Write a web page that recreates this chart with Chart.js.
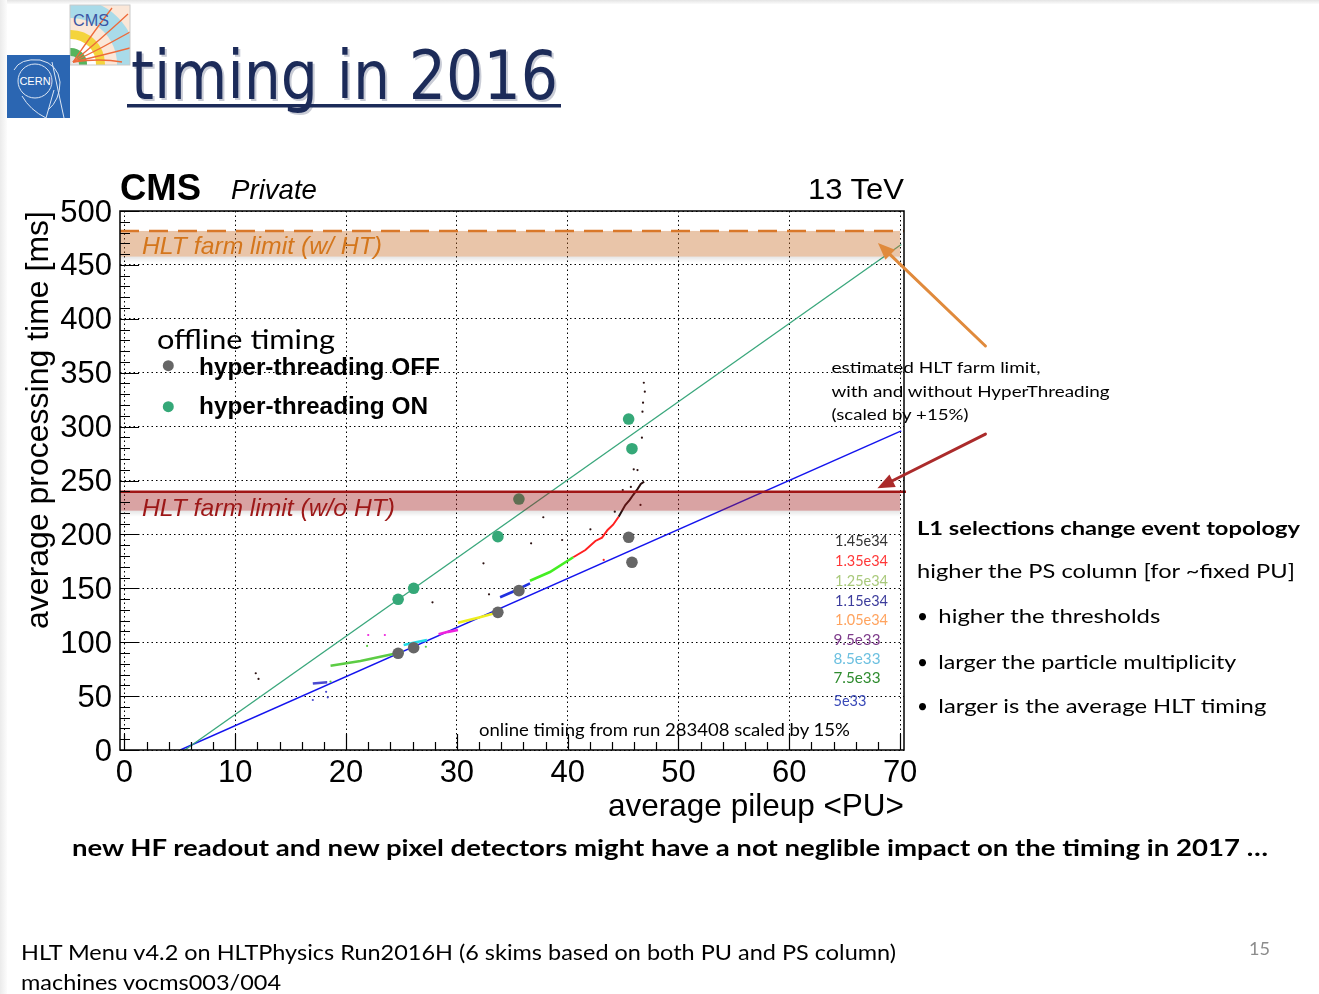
<!DOCTYPE html>
<html>
<head>
<meta charset="utf-8">
<title>timing in 2016</title>
<script src="https://cdn.jsdelivr.net/npm/chart.js@4.4.1/dist/chart.umd.min.js"></script>
<style>
  html, body { margin: 0; padding: 0; background: #fff; }
  #page { position: relative; width: 1319px; height: 994px; overflow: hidden; background: #fff; }
  #edgeTop { position: absolute; left: 0; top: 0; width: 1319px; height: 4px; background: linear-gradient(#e4e4e4, #fbfbfb); }
  #edgeLeft { position: absolute; left: 0; top: 0; width: 7px; height: 994px; background: linear-gradient(90deg, #ebebeb, #fcfcfc); }
  #chart { position: absolute; left: 0; top: 150px; }
  #overlay { position: absolute; left: 0; top: 0; pointer-events: none; }
  .root { font-family: "Liberation Sans", Arial, sans-serif; }
  .ppt { font-family: Lato, "Open Sans", sans-serif; }
</style>
</head>
<body>
<div id="page">
  <div id="edgeTop"></div>
  <div id="edgeLeft"></div>
  <canvas id="chart" width="1319" height="680"></canvas>

  <svg id="overlay" width="1319" height="994" xmlns="http://www.w3.org/2000/svg">
    <!-- experiment logos -->
    <defs>
      <clipPath id="cmsClip"><rect x="70" y="5" width="60" height="60"/></clipPath>
    </defs>
    <g clip-path="url(#cmsClip)">
      <rect x="70" y="5" width="60" height="60" fill="#fbe7d8"/>
      <circle cx="71" cy="64" r="66" fill="#a9dbe9"/>
      <circle cx="71" cy="64" r="46" fill="#fbe7d8"/>
      <circle cx="71" cy="64" r="34" fill="#f4d43c"/>
      <circle cx="71" cy="64" r="25" fill="#ffffff"/>
      <circle cx="71" cy="64" r="16" fill="#56b45c"/>
      <circle cx="71" cy="64" r="8" fill="#e6e6e6"/>
      <g fill="none" stroke="#ee6a3a" stroke-width="1.3">
        <path d="M73,62 Q100,40 128,14"/>
        <path d="M73,62 Q102,48 130,32"/>
        <path d="M73,62 Q104,55 130,48"/>
        <path d="M73,62 Q100,58 122,62"/>
        <path d="M73,62 Q95,30 112,8"/>
      </g>
      <text x="73" y="26" class="root" font-size="16" fill="#3b56a4" textLength="36" lengthAdjust="spacingAndGlyphs">CMS</text>
    </g>
    <rect x="70" y="5" width="60" height="60" fill="none" stroke="#c9c9c9" stroke-width="1"/>
    <rect x="7" y="55" width="63" height="63" fill="#2b66b2"/>
    <g fill="none" stroke="#dce6f4" stroke-width="1">
      <circle cx="35" cy="81" r="17"/>
      <path d="M14,70 Q20,58 40,60 Q58,64 60,82 Q60,100 48,110"/>
      <path d="M22,96 Q30,110 46,118"/>
      <path d="M52,62 L64,118"/>
      <path d="M46,118 L54,90"/>
    </g>
    <text x="35" y="85" class="root" font-size="11" fill="#ffffff" text-anchor="middle">CERN</text>

    <!-- slide title -->
    <text x="131" y="99" font-family="DejaVu Sans" font-size="67" fill="#c9ccd6" textLength="427" lengthAdjust="spacingAndGlyphs" transform="translate(2,2)">timing in 2016</text>
    <text x="131" y="99" font-family="DejaVu Sans" font-size="67" fill="#1c2b59" textLength="427" lengthAdjust="spacingAndGlyphs">timing in 2016</text>
    <rect x="127" y="104" width="434" height="3.5" fill="#1c2b59"/>

    <!-- plot header -->
    <text x="120" y="200" class="root" font-size="36" font-weight="bold" fill="#000" textLength="81" lengthAdjust="spacingAndGlyphs">CMS</text>
    <text x="231" y="199" class="root" font-size="28" font-style="italic" fill="#000" textLength="86" lengthAdjust="spacingAndGlyphs">Private</text>
    <text x="808" y="199" class="root" font-size="30" fill="#000" textLength="96" lengthAdjust="spacingAndGlyphs">13 TeV</text>

    <!-- farm limit labels -->
    <text x="142" y="254" class="root" font-size="24" font-style="italic" fill="#d4761c" textLength="240" lengthAdjust="spacingAndGlyphs">HLT farm limit (w/ HT)</text>
    <text x="142" y="516" class="root" font-size="24" font-style="italic" fill="#9c1717" textLength="253" lengthAdjust="spacingAndGlyphs">HLT farm limit (w/o HT)</text>

    <!-- offline timing legend -->
    <text x="157" y="349" class="ppt" font-size="27" fill="#000" textLength="178" lengthAdjust="spacingAndGlyphs">offline timing</text>
    <circle cx="168.3" cy="365.7" r="5.5" fill="#666666"/>
    <text x="199" y="375" class="root" font-size="24" font-weight="bold" fill="#000" textLength="241" lengthAdjust="spacingAndGlyphs">hyper-threading OFF</text>
    <circle cx="168.3" cy="406.7" r="5.5" fill="#35a878"/>
    <text x="199" y="413.5" class="root" font-size="24" font-weight="bold" fill="#000" textLength="229" lengthAdjust="spacingAndGlyphs">hyper-threading ON</text>

    <!-- online timing luminosity legend -->
    <g class="ppt" font-size="16">
      <text x="835" y="546" fill="#333333" textLength="53" lengthAdjust="spacingAndGlyphs">1.45e34</text>
      <text x="835" y="566" fill="#ff3838" textLength="53" lengthAdjust="spacingAndGlyphs">1.35e34</text>
      <text x="835" y="585.5" fill="#a9c97a" textLength="53" lengthAdjust="spacingAndGlyphs">1.25e34</text>
      <text x="835" y="605.5" fill="#3c3c9c" textLength="53" lengthAdjust="spacingAndGlyphs">1.15e34</text>
      <text x="835" y="625" fill="#ffa35e" textLength="53" lengthAdjust="spacingAndGlyphs">1.05e34</text>
      <text x="833.5" y="645" fill="#7d3a8a" textLength="47" lengthAdjust="spacingAndGlyphs">9.5e33</text>
      <text x="833.5" y="664" fill="#6cc0e0" textLength="47" lengthAdjust="spacingAndGlyphs">8.5e33</text>
      <text x="833.5" y="683" fill="#2e8b2e" textLength="47" lengthAdjust="spacingAndGlyphs">7.5e33</text>
      <text x="833.5" y="706" fill="#3a4ab8" textLength="33" lengthAdjust="spacingAndGlyphs">5e33</text>
    </g>
    <text x="479" y="736" class="ppt" font-size="16.5" fill="#000" textLength="371" lengthAdjust="spacingAndGlyphs">online timing from run 283408 scaled by 15%</text>

    <!-- farm limit note -->
    <g class="ppt" font-size="15.5" fill="#000">
      <text x="831.5" y="373" textLength="209" lengthAdjust="spacingAndGlyphs">estimated HLT farm limit,</text>
      <text x="831.5" y="397" textLength="278" lengthAdjust="spacingAndGlyphs">with and without HyperThreading</text>
      <text x="831.5" y="420" textLength="137" lengthAdjust="spacingAndGlyphs">(scaled by +15%)</text>
    </g>

    <!-- right-hand notes -->
    <g class="ppt" font-size="19" fill="#000">
      <text x="917" y="535" font-weight="bold" textLength="383" lengthAdjust="spacingAndGlyphs">L1 selections change event topology</text>
      <text x="917" y="578" textLength="378" lengthAdjust="spacingAndGlyphs">higher the PS column [for ~fixed PU]</text>
      <text x="917" y="623">•</text>
      <text x="938.3" y="623" textLength="222" lengthAdjust="spacingAndGlyphs">higher the thresholds</text>
      <text x="917" y="668.5">•</text>
      <text x="938.3" y="668.5" textLength="298" lengthAdjust="spacingAndGlyphs">larger the particle multiplicity</text>
      <text x="917" y="713">•</text>
      <text x="938.3" y="713" textLength="328" lengthAdjust="spacingAndGlyphs">larger is the average HLT timing</text>
    </g>

    <!-- conclusion and footer -->
    <text x="72" y="856" class="ppt" font-size="22.5" font-weight="bold" fill="#000" textLength="1196" lengthAdjust="spacingAndGlyphs">new HF readout and new pixel detectors might have a not neglible impact on the timing in 2017 …</text>
    <text x="21" y="960" class="ppt" font-size="22" fill="#000" textLength="875" lengthAdjust="spacingAndGlyphs">HLT Menu v4.2 on HLTPhysics Run2016H (6 skims based on both PU and PS column)</text>
    <text x="21" y="990" class="ppt" font-size="22" fill="#000" textLength="260" lengthAdjust="spacingAndGlyphs">machines vocms003/004</text>
    <text x="1249" y="955" class="ppt" font-size="17" fill="#8c8c8c" textLength="21" lengthAdjust="spacingAndGlyphs">15</text>
  </svg>
</div>

<script>
// ---- axis ticks ----
const xTicks = [0, 10, 20, 30, 40, 50, 60, 70];
const yTicks = [0, 50, 100, 150, 200, 250, 300, 350, 400, 450, 500];

// ---- offline timing (average pileup vs average processing time in ms) ----
const offlinePU = [24.7, 26.1, 33.7, 35.6, 45.5, 45.8];
const timeHTOff = [89.7, 94.9, 127.7, 147.8, 197.3, 174.1];
const timeHTOn  = [139.8, 150.0, 197.9, 232.8, 307.0, 279.5];

// ---- linear fits to the offline points ----
const fitHTOnPU    = [5.45, 70.1];
const fitHTOnTime  = [0, 469];
const fitHTOffPU   = [5.04, 70.1];
const fitHTOffTime = [0, 296];

// ---- estimated HLT farm limits [ms]: lower edge, limit ----
const limitWithHT    = [457.7, 481.5];
const limitWithoutHT = [222.0, 239.6];

// ---- online timing from run 283408, one track per instantaneous luminosity ----
const lumiLabels = ['5e33', '7.5e33', '8.5e33', '9.5e33', '1.05e34', '1.15e34', '1.25e34', '1.35e34', '1.45e34'];
const trackPU = [
  [17.0, 18.3],
  [18.6, 21.3, 25.2],
  [25.2, 26.3, 27.3],
  [28.35, 29.2, 30.1],
  [30.1, 32.0, 33.9],
  [33.9, 35.2, 36.6],
  [36.6, 38.4, 40.5],
  [40.5, 41.6, 42.5, 43.1, 43.6, 44.1, 44.6],
  [44.6, 45.2, 45.6, 45.9, 46.3, 46.6, 46.9]
];
const trackTime = [
  [61.7, 62.8],
  [78.2, 82.6, 91.2],
  [97.4, 100.0, 102.0],
  [107.3, 109.6, 111.3],
  [118.1, 123.0, 128.3],
  [141.7, 147.5, 154.6],
  [157.0, 165.1, 178.8],
  [178.8, 185.5, 193.9, 197.0, 204.1, 209.0, 216.4],
  [216.4, 227.3, 232.0, 236.5, 242.0, 246.8, 249.0]
];
// isolated online measurements: pileup, time, luminosity index
const strayPU   = [17.0, 18.35, 18.2, 18.6, 21.9, 27.2, 22.0, 23.5, 43.25,
                   11.85, 12.1, 27.8, 32.4, 32.9, 37.8, 36.7, 39.5, 42.05, 44.25, 44.97,
                   45.7, 46.57, 45.96, 46.7, 46.75, 46.8, 46.96, 46.87, 46.3];
const strayTime = [46.4, 48.9, 54.0, 63.4, 96.5, 95.8, 106.7, 106.7, 176.3,
                   71.2, 65.9, 137.0, 173.2, 144.4, 215.9, 191.7, 194.8, 204.7, 221.1, 241.2,
                   244.0, 227.3, 260.4, 289.7, 313.8, 322.2, 332.4, 340.7, 259.7];
const strayLumi = [0, 0, 0, 1, 1, 1, 3, 3, 7,
                   8, 8, 8, 8, 8, 8, 8, 8, 8, 8, 8,
                   8, 8, 8, 8, 8, 8, 8, 8, 8];

// ---- styling ----
const trackColors = ['#4a4ad0', '#5ccc44', '#22dde8', '#ee22dd', '#eeee1e', '#2030e0', '#44ee22', '#ff2020', '#2a1010'];
const FONT = 'Liberation Sans';

const toPoints = (xs, ys) => xs.map((v, i) => ({ x: v, y: ys[i] }));

const datasets = [];
// offline points on top
datasets.push({
  label: 'hyper-threading OFF', data: toPoints(offlinePU, timeHTOff), order: 0,
  pointRadius: 5.8, pointBackgroundColor: '#666666', pointBorderWidth: 0, showLine: false
});
datasets.push({
  label: 'hyper-threading ON', data: toPoints(offlinePU, timeHTOn), order: 0,
  pointRadius: 5.8, pointBackgroundColor: '#35a878', pointBorderWidth: 0, showLine: false
});
// online tracks
trackPU.forEach((pu, i) => {
  datasets.push({
    label: lumiLabels[i], data: toPoints(pu, trackTime[i]), order: 1,
    showLine: true, borderColor: trackColors[i], borderWidth: i === 7 || i === 8 ? 2 : 2.6,
    pointRadius: 0, tension: 0
  });
});
datasets.push({
  label: 'online (isolated)', data: toPoints(strayPU, strayTime), order: 1, showLine: false,
  pointRadius: 1.1, pointBorderWidth: 0,
  pointBackgroundColor: strayLumi.map(k => trackColors[k])
});
// fits underneath
datasets.push({
  label: 'fit HT ON', data: toPoints(fitHTOnPU, fitHTOnTime), order: 2,
  showLine: true, borderColor: '#3aa77c', borderWidth: 1.3, pointRadius: 0
});
datasets.push({
  label: 'fit HT OFF', data: toPoints(fitHTOffPU, fitHTOffTime), order: 2,
  showLine: true, borderColor: '#1414ee', borderWidth: 1.5, pointRadius: 0
});

// farm-limit bands, drawn over the data as translucent strips
const limitsPlugin = {
  id: 'farmLimits',
  afterDatasetsDraw(chart) {
    const { ctx, chartArea: a, scales: { x, y } } = chart;
    const xEnd = x.getPixelForValue(70);
    const band = (lim, fill) => {
      const yTop = y.getPixelForValue(lim[1]);
      const yBot = y.getPixelForValue(lim[0]);
      ctx.save();
      ctx.fillStyle = fill;
      ctx.fillRect(a.left, yTop, xEnd - a.left, yBot - yTop);
      const g = ctx.createLinearGradient(0, yBot, 0, yBot + 6);
      g.addColorStop(0, 'rgba(0,0,0,0.10)');
      g.addColorStop(1, 'rgba(0,0,0,0)');
      ctx.fillStyle = g;
      ctx.fillRect(a.left, yBot, xEnd - a.left, 6);
      ctx.restore();
      return yTop;
    };
    const yHT = band(limitWithHT, 'rgba(200,110,40,0.40)');
    const yNoHT = band(limitWithoutHT, 'rgba(160,25,25,0.40)');
    ctx.save();
    ctx.lineWidth = 2.5;
    ctx.strokeStyle = '#d9782a';
    ctx.setLineDash([19, 10]);
    ctx.beginPath(); ctx.moveTo(a.left, yHT); ctx.lineTo(a.right, yHT); ctx.stroke();
    ctx.setLineDash([]);
    ctx.strokeStyle = '#a01616';
    ctx.beginPath(); ctx.moveTo(a.left, yNoHT); ctx.lineTo(a.right + 2, yNoHT); ctx.stroke();
    ctx.restore();
  }
};

// frame, inward tick marks and the note arrows
const framePlugin = {
  id: 'rootFrame',
  afterDraw(chart) {
    const { ctx, chartArea: a, scales: { x, y } } = chart;
    ctx.save();
    ctx.strokeStyle = '#000';
    ctx.lineWidth = 1.5;
    ctx.strokeRect(a.left, a.top, a.right - a.left, a.bottom - a.top);
    ctx.lineWidth = 1.2;
    ctx.beginPath();
    for (let v = 0; v <= 70; v += 2) {
      const px = Math.round(x.getPixelForValue(v)) + 0.5;
      const len = v % 10 === 0 ? 16 : 8;
      ctx.moveTo(px, a.bottom); ctx.lineTo(px, a.bottom - len);
    }
    for (let v = 0; v <= 500; v += 10) {
      const py = Math.round(y.getPixelForValue(v)) + 0.5;
      const len = v % 50 === 0 ? 19 : 10;
      ctx.moveTo(a.left, py); ctx.lineTo(a.left + len, py);
    }
    ctx.stroke();
    ctx.restore();

    const arrow = (from, to, color) => {
      const x1 = x.getPixelForValue(from[0]), y1 = y.getPixelForValue(from[1]);
      const x2 = x.getPixelForValue(to[0]), y2 = y.getPixelForValue(to[1]);
      const ang = Math.atan2(y2 - y1, x2 - x1);
      const L = 17, W = 7;
      ctx.save();
      ctx.strokeStyle = color; ctx.fillStyle = color; ctx.lineWidth = 3; ctx.lineCap = 'round';
      ctx.beginPath();
      ctx.moveTo(x1, y1);
      ctx.lineTo(x2 - (L - 3) * Math.cos(ang), y2 - (L - 3) * Math.sin(ang));
      ctx.stroke();
      ctx.beginPath();
      ctx.moveTo(x2, y2);
      ctx.lineTo(x2 - L * Math.cos(ang) + W * Math.sin(ang), y2 - L * Math.sin(ang) - W * Math.cos(ang));
      ctx.lineTo(x2 - L * Math.cos(ang) - W * Math.sin(ang), y2 - L * Math.sin(ang) + W * Math.cos(ang));
      ctx.closePath();
      ctx.fill();
      ctx.restore();
    };
    arrow([77.7, 374.8], [68.0, 470.3], '#e08a3c');
    arrow([77.7, 293.1], [67.95, 242.8], '#ab2b2b');
  }
};

new Chart(document.getElementById('chart'), {
  type: 'scatter',
  data: { datasets },
  plugins: [limitsPlugin, framePlugin],
  options: {
    responsive: false,
    animation: false,
    devicePixelRatio: 1,
    layout: { padding: { left: 0, right: 415, top: 61, bottom: 0 } },
    plugins: { legend: { display: false }, tooltip: { enabled: false } },
    scales: {
      x: {
        type: 'linear', min: -0.4, max: 70.35,
        afterFit(s) { s.height = 80; },
        afterBuildTicks(s) { s.ticks = xTicks.map(v => ({ value: v })); },
        ticks: { autoSkip: false, maxRotation: 0, padding: 5, color: '#000', font: { family: FONT, size: 31 } },
        grid: { color: '#000', lineWidth: 1, drawTicks: false },
        border: { display: false, dash: [1.5, 3] },
        title: {
          display: true, text: 'average pileup <PU>', align: 'end', color: '#000',
          font: { family: FONT, size: 31.5 }, padding: { top: 0, bottom: 4 }
        }
      },
      y: {
        type: 'linear', min: 0, max: 500,
        afterFit(s) { s.width = 120; },
        afterBuildTicks(s) { s.ticks = yTicks.map(v => ({ value: v })); },
        ticks: { autoSkip: false, padding: 8, labelOffset: 2, color: '#000', font: { family: FONT, size: 31 } },
        grid: { color: '#000', lineWidth: 1, drawTicks: false },
        border: { display: false, dash: [1.5, 3] },
        title: {
          display: true, text: 'average processing time [ms]', align: 'end', color: '#000',
          font: { family: FONT, size: 32 }, padding: { top: 20, bottom: 0 }
        }
      }
    }
  }
});
</script>
</body>
</html>
